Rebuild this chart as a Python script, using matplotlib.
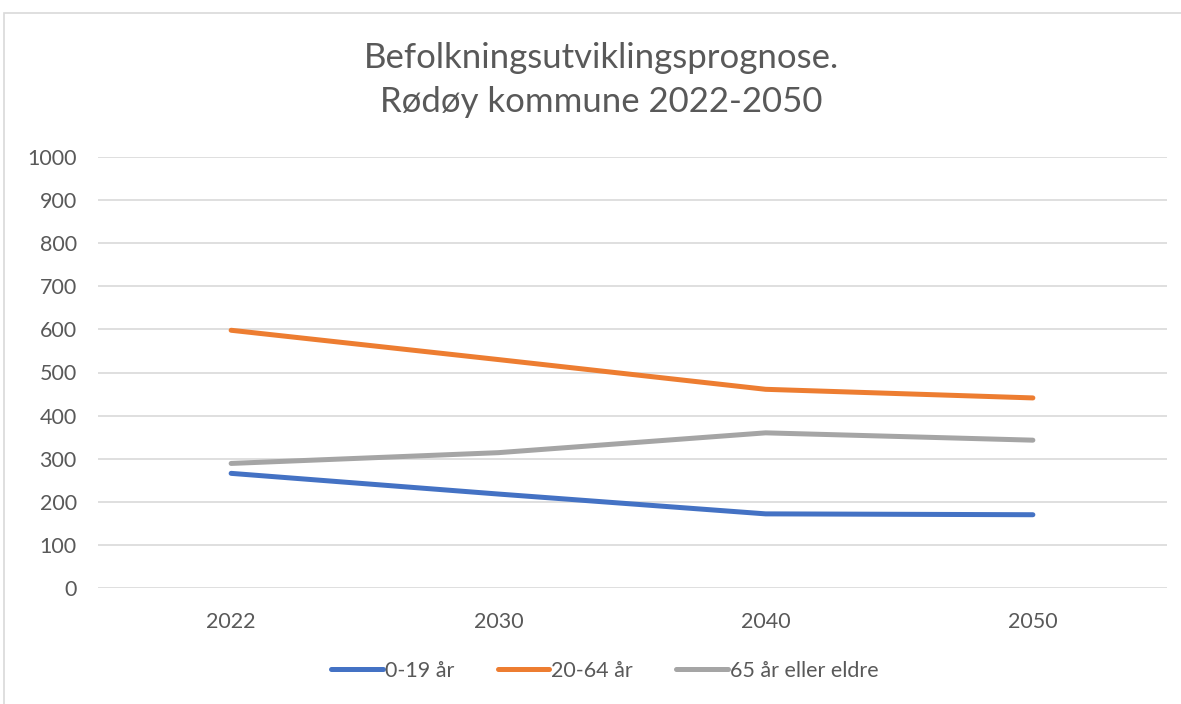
import matplotlib
matplotlib.use("Agg")
import matplotlib.pyplot as plt
from matplotlib.patches import Rectangle

years = ["2022", "2030", "2040", "2050"]
age_0_19 = [266, 218, 172, 170]
age_20_64 = [598, 530, 461, 441]
age_65_plus = [289, 314, 360, 343]
series_names = ["0-19 år", "20-64 år", "65 år eller eldre"]
colors = ["#4472C4", "#ED7D31", "#A5A5A5"]
yticks = list(range(0, 1001, 100))
title = "Befolkningsutviklingsprognose.\nRødøy kommune 2022-2050"

plt.rcParams['font.family'] = ['Lato', 'DejaVu Sans']
text_color = "#595959"

fig = plt.figure(figsize=(11.81, 7.04), dpi=100)
W, H = 1181, 704
fig.patches.append(Rectangle((4 / W, -0.1), 1.2, 1 - 13 / H + 0.1, transform=fig.transFigure,
                             fill=False, edgecolor="#d9d9d9", linewidth=1.2))

ax = fig.add_axes([97.5 / W, 1 - 588 / H, (1166.5 - 97.5) / W, (588 - 157) / H])
x = list(range(len(years)))
for vals, name, c in zip([age_0_19, age_20_64, age_65_plus], series_names, colors):
    ax.plot(x, vals, color=c, linewidth=3.6, solid_capstyle="round", label=name)

ax.set_xlim(-0.5, len(years) - 0.5)
ax.set_ylim(0, 1000)
ax.set_yticks(yticks)
ax.set_yticklabels([str(v) for v in yticks])
ax.set_xticks(x)
ax.set_xticklabels(years)
ax.grid(axis="y", color="#d9d9d9", linewidth=1.2)
ax.set_axisbelow(True)
for s in ax.spines.values():
    s.set_visible(False)
ax.tick_params(axis="both", length=0, colors=text_color, labelsize=15.5)
ax.tick_params(axis="y", pad=15)
ax.tick_params(axis="x", pad=17)

fig.text(601 / W, 1 - 80 / H, title, ha="center", va="center", fontsize=25,
         color=text_color, linespacing=1.5)

leg = fig.legend(loc="center", bbox_to_anchor=(605 / W, 1 - 671 / H), ncol=3,
                 frameon=False, fontsize=15.5, handlelength=2.4, handletextpad=0.1,
                 columnspacing=2.0)
for t in leg.get_texts():
    t.set_color(text_color)

fig.savefig("out.png", dpi=100)
